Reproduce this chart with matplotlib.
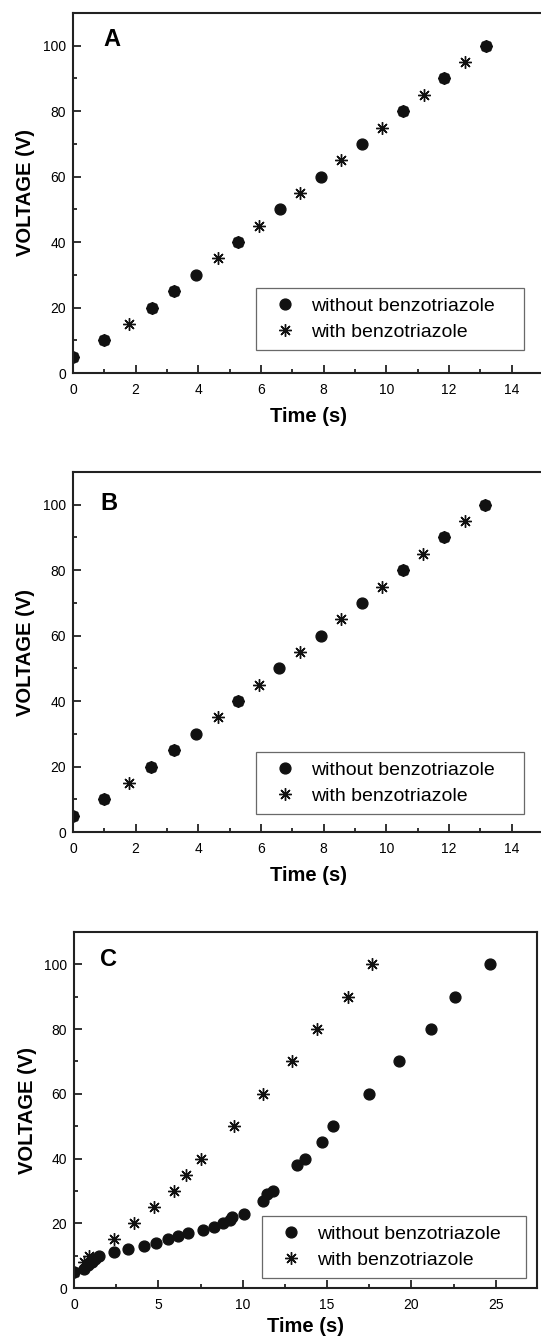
import matplotlib
matplotlib.use("Agg")
import matplotlib.pyplot as plt
from matplotlib.lines import Line2D
from matplotlib.ticker import MultipleLocator

plt.rcParams['font.family'] = ['Liberation Sans', 'DejaVu Sans']

# ---------------- data ----------------
# Panel A
a_without_t = [0, 0.99, 2.51, 3.23, 3.94, 5.27, 6.6, 7.9, 9.22, 10.53, 11.85, 13.17]
a_without_v = [5, 10, 20, 25, 30, 40, 50, 60, 70, 80, 90, 100]
a_with_t = [0, 0.99, 1.79, 2.51, 3.23, 4.63, 5.27, 5.93, 7.26, 8.56, 9.87, 10.53, 11.19, 11.85, 12.52, 13.17]
a_with_v = [5, 10, 15, 20, 25, 35, 40, 45, 55, 65, 75, 80, 85, 90, 95, 100]

# Panel B
b_without_t = [0, 0.99, 2.5, 3.22, 3.94, 5.26, 6.58, 7.9, 9.21, 10.52, 11.84, 13.16]
b_without_v = [5, 10, 20, 25, 30, 40, 50, 60, 70, 80, 90, 100]
b_with_t = [0, 0.99, 1.79, 2.5, 3.22, 4.62, 5.26, 5.93, 7.25, 8.55, 9.86, 10.52, 11.18, 11.84, 12.52, 13.16]
b_with_v = [5, 10, 15, 20, 25, 35, 40, 45, 55, 65, 75, 80, 85, 90, 95, 100]

# Panel C
c_without_t = [0, 0.6, 0.85, 1.05, 1.25, 1.5, 2.35, 3.21, 4.15, 4.87, 5.59, 6.18, 6.77,
               7.67, 8.29, 8.84, 9.27, 9.37, 10.05, 11.19, 11.46, 11.8, 13.2, 13.69,
               14.69, 15.38, 17.47, 19.29, 21.15, 22.6, 24.65]
c_without_v = [5, 6, 7, 8, 9, 10, 11, 12, 13, 14, 15, 16, 17,
               18, 19, 20, 21, 22, 23, 27, 29, 30, 38, 40,
               45, 50, 60, 70, 80, 90, 100]
c_with_t = [0, 0.6, 0.9, 2.39, 3.54, 4.75, 5.93, 6.65, 7.53, 9.51, 11.19, 12.95, 14.38, 16.26, 17.64]
c_with_v = [5, 8, 10, 15, 20, 25, 30, 35, 40, 50, 60, 70, 80, 90, 100]

labels = ["without benzotriazole", "with benzotriazole"]
x_label = "Time (s)"
y_label = "VOLTAGE (V)"

# ---------------- figure ----------------
W, H = 541, 1341
fig = plt.figure(figsize=(W / 100, H / 100), dpi=100)

STAR = (8, 2, 0)
CIRC_MS = 7.8
STAR_MS = 9.0
STAR_MEW = 1.0
INK = '#111111'


def rect(l, t, r, b):
    return [l / W, 1 - b / H, (r - l) / W, (b - t) / H]


def panel(r, wt, wv, st, sv, xmax, xmaj, xmin_, letter, letter_xy, leg_bbox, xlab_y):
    ax = fig.add_axes(r)
    ax.plot(wt, wv, linestyle='none', marker='o', ms=CIRC_MS, color=INK, mec=INK)
    ax.plot(st, sv, linestyle='none', marker=STAR, ms=STAR_MS, color=INK, mew=STAR_MEW)
    ax.set_xlim(0, xmax)
    ax.set_ylim(0, 110)
    ax.xaxis.set_major_locator(MultipleLocator(xmaj))
    ax.xaxis.set_minor_locator(MultipleLocator(xmin_))
    ax.yaxis.set_major_locator(MultipleLocator(20))
    ax.yaxis.set_minor_locator(MultipleLocator(10))
    ax.tick_params(which='both', direction='in', top=False, right=False,
                   width=1.3, color='#222222')
    ax.tick_params(which='major', length=6, labelsize=10)
    ax.tick_params(axis='x', which='major', pad=7.5)
    ax.tick_params(axis='y', which='major', pad=5)
    ax.tick_params(which='minor', length=3)
    for s in ax.spines.values():
        s.set_linewidth(1.5)
        s.set_color('#222222')
    ax.set_xlabel(x_label, fontsize=14.5, fontweight='bold')
    ax.set_ylabel(y_label, fontsize=14.5, fontweight='bold')
    ax.xaxis.set_label_coords(0.5, xlab_y)
    ax.yaxis.set_label_coords(-0.08, 0.5)
    ax.text(letter_xy[0], letter_xy[1], letter, transform=ax.transAxes,
            fontsize=17, fontweight='bold', ha='left', va='baseline')
    handles = [Line2D([], [], linestyle='none', marker='o', ms=CIRC_MS, color=INK),
               Line2D([], [], linestyle='none', marker=STAR, ms=STAR_MS, color=INK, mew=STAR_MEW)]
    leg = ax.legend(handles, labels, loc='lower left', bbox_to_anchor=leg_bbox,
                    mode='expand', borderaxespad=0, fontsize=14, frameon=True,
                    fancybox=False, borderpad=0.48, labelspacing=0.42,
                    handlelength=2.0, handletextpad=0.35, numpoints=1)
    fr = leg.get_frame()
    fr.set_edgecolor('#444444')
    fr.set_linewidth(0.9)
    return ax


panel(rect(73, 13, 543, 373), a_without_t, a_without_v, a_with_t, a_with_v,
      15, 2, 1, "A", (0.065, 0.907), (0.389, 0.063, 0.570, 0.2), -0.095)
panel(rect(73, 472, 543, 832), b_without_t, b_without_v, b_with_t, b_with_v,
      15, 2, 1, "B", (0.058, 0.895), (0.389, 0.049, 0.570, 0.2), -0.095)
panel(rect(74, 932, 537, 1288), c_without_t, c_without_v, c_with_t, c_with_v,
      27.45, 5, 2.5, "C", (0.056, 0.905), (0.406, 0.028, 0.570, 0.2), -0.081)

fig.savefig("out.png", dpi=100)
